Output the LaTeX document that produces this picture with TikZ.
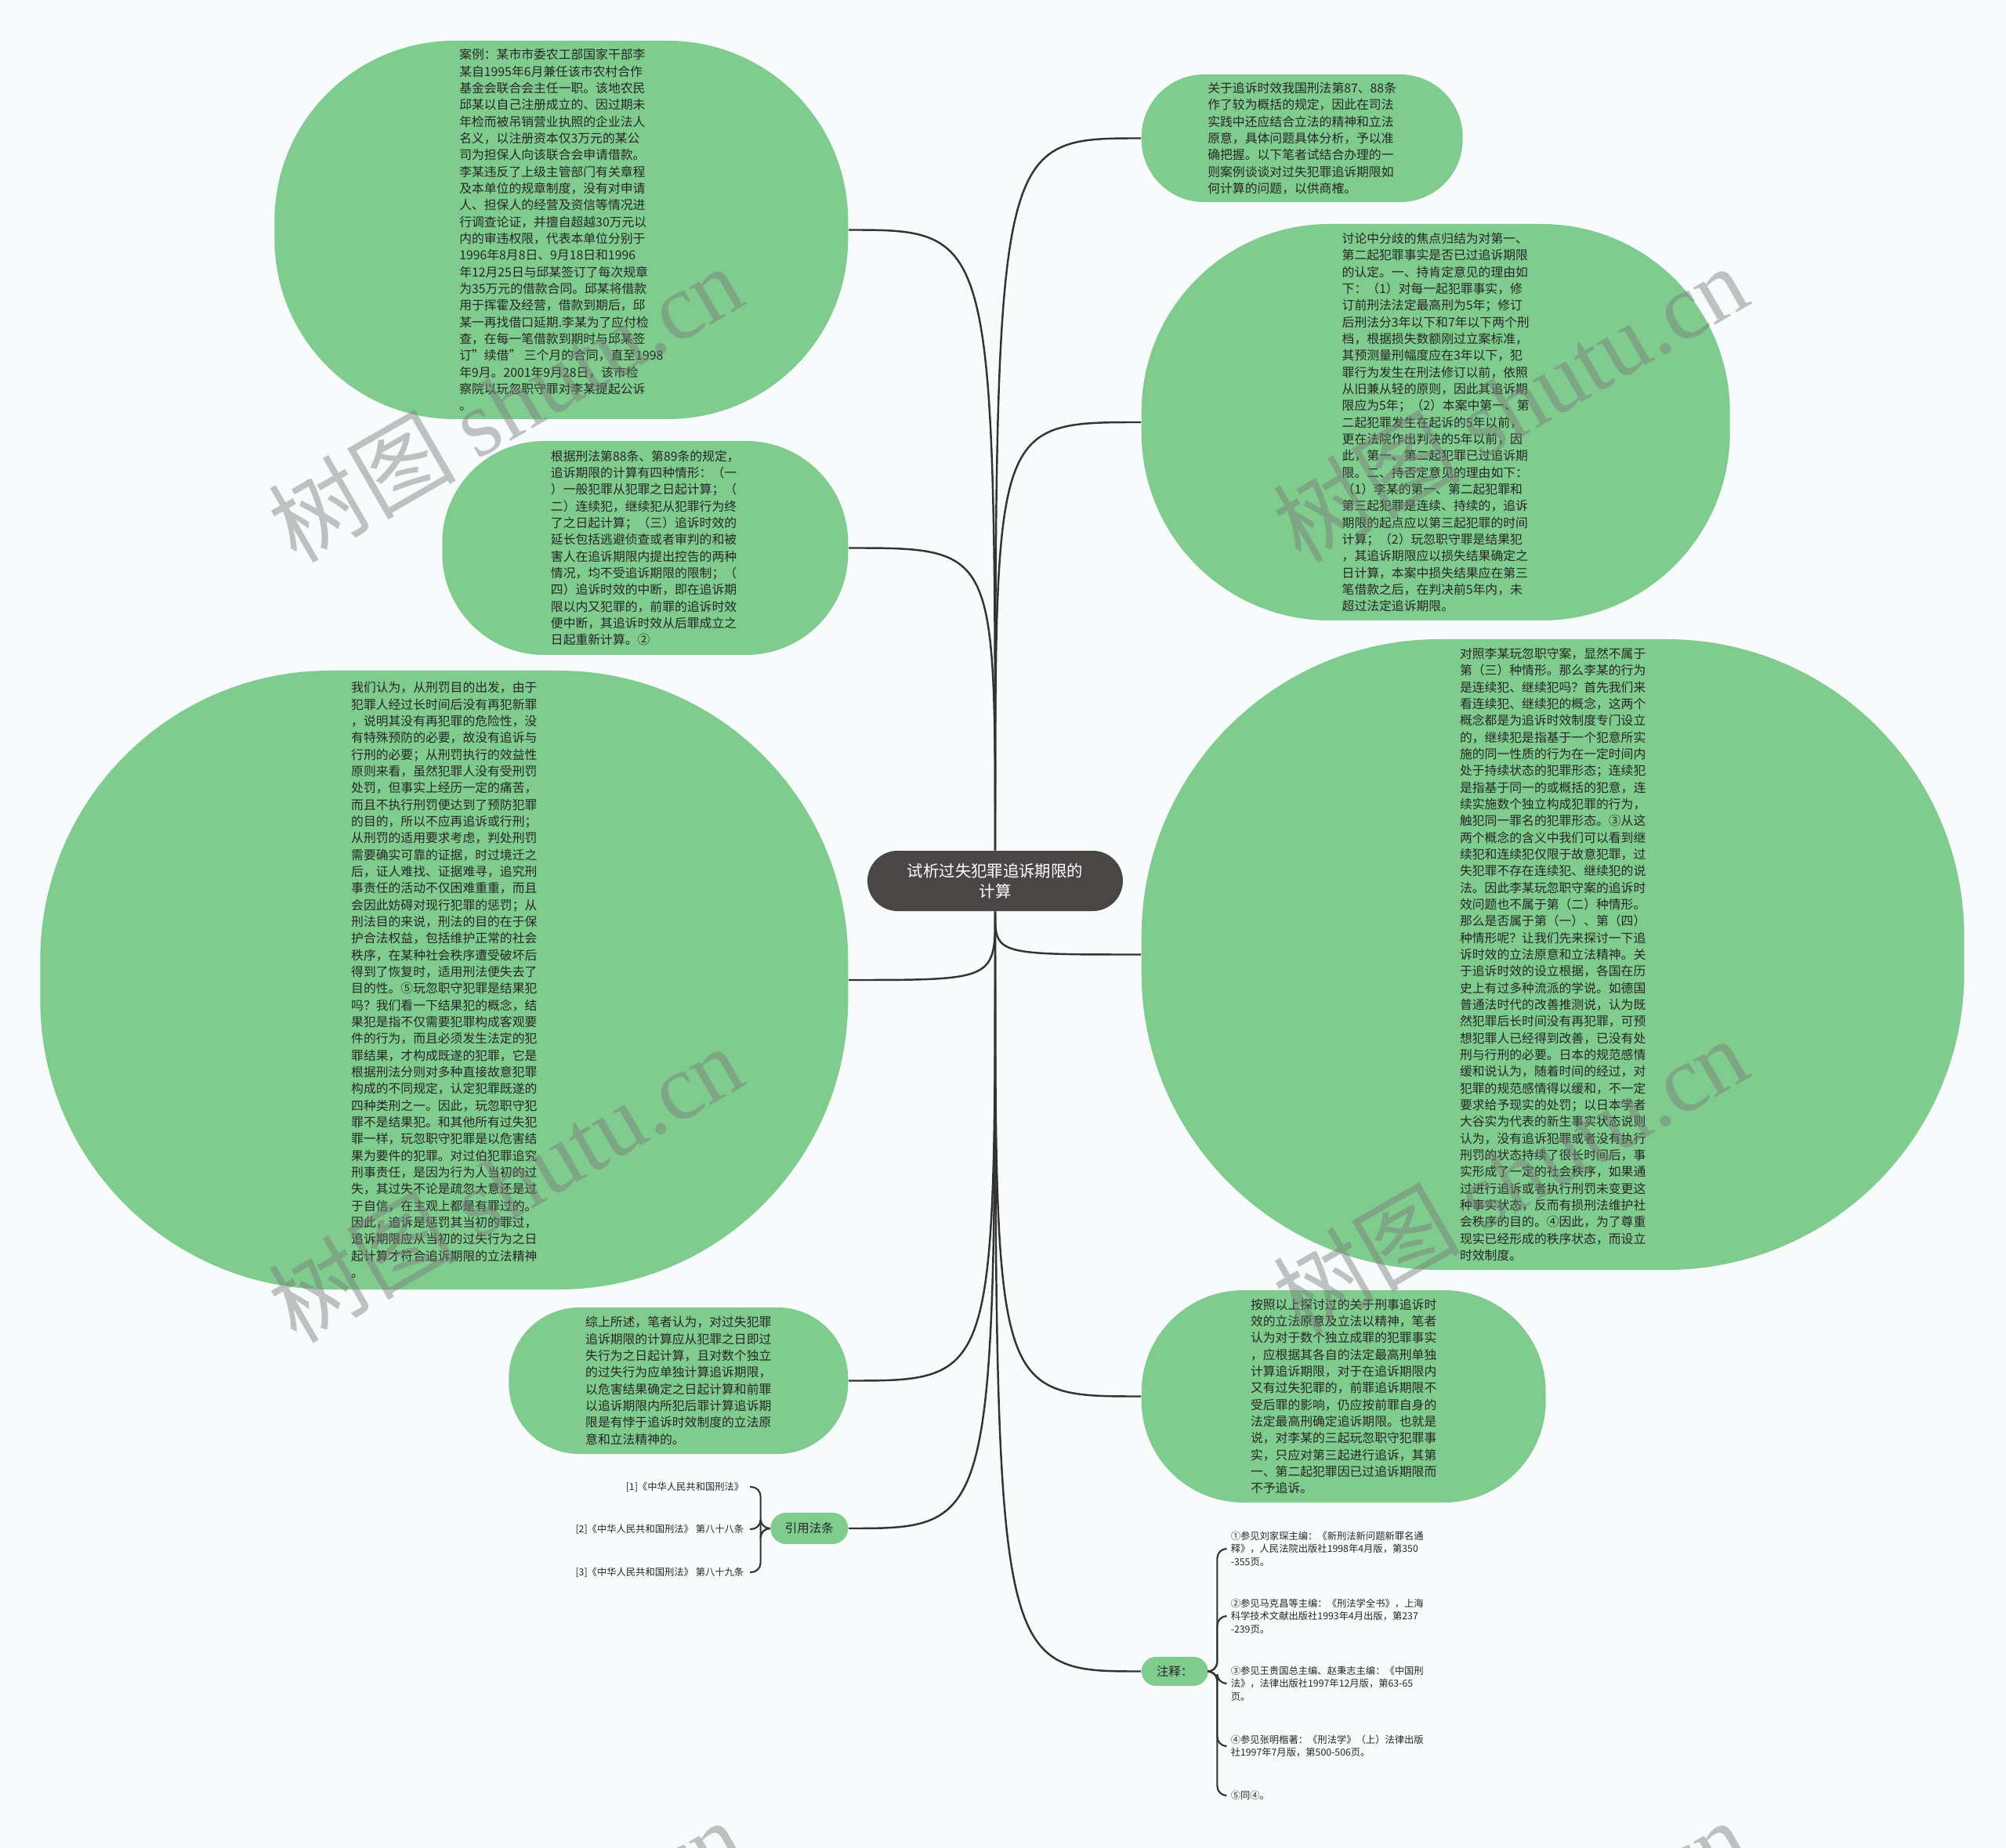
\documentclass[tikz,border=0pt]{standalone}
\usepackage{fontspec}
\setmainfont{Noto Sans CJK SC}
\newfontfamily\markfont{Liberation Serif}
\usepackage{tikz}
\definecolor{PaperBg}{HTML}{F8FBFC}
\definecolor{LeafGreen}{HTML}{80CB8E}
\definecolor{InkDark}{HTML}{262626}
\definecolor{RootGray}{HTML}{4A4646}
\definecolor{LinkGray}{HTML}{333333}
\definecolor{MarkGray}{HTML}{7A7A7A}

\begin{document}
\begin{tikzpicture}[
  every node/.style={font=\fontsize{4.5}{6.07}\selectfont, text=InkDark},
  bubble/.style={fill=LeafGreen, inner sep=0pt, align=left},
  tag/.style={fill=LeafGreen, inner sep=0pt, font=\fontsize{4.4}{5}\selectfont},
  leaf/.style={inner sep=2pt, align=left, font=\fontsize{3.5}{4.65}\selectfont},
  link/.style={draw=LinkGray, line width=0.7pt},
  brace/.style={draw=LinkGray, line width=0.6pt, rounded corners=0.12cm},
  wmark/.style={rotate=30, text=MarkGray, text opacity=0.45, font=\fontsize{34}{34}\selectfont}]
  % page
  \fill[PaperBg] (0,0) rectangle (25.6,-23.59);
  \useasboundingbox (0,0) rectangle (25.6,-23.59);
  % root
  \node[fill=RootGray, text=white, minimum width=3.26cm, minimum height=0.77cm,
    rounded corners=0.385cm, inner sep=0pt, align=center,
    font=\fontsize{5.8}{7.5}\selectfont] (root) at (12.70,-11.245)
    {试析过失犯罪追诉期限的\\计算};
  % left bubbles
  \node[bubble, anchor=east, minimum width=7.32cm, minimum height=4.83cm,
    rounded corners=2.3cm] (case) at (10.83,-2.935) {%
案例：某市市委农工部国家干部李\\
某自1995年6月兼任该市农村合作\\
基金会联合会主任一职。该地农民\\
邱某以自己注册成立的、因过期未\\
年检而被吊销营业执照的企业法人\\
名义，以注册资本仅3万元的某公\\
司为担保人向该联合会申请借款。\\
李某违反了上级主管部门有关章程\\
及本单位的规章制度，没有对申请\\
人、担保人的经营及资信等情况进\\
行调查论证，并擅自超越30万元以\\
内的审违权限，代表本单位分别于\\
1996年8月8日、9月18日和1996\\
年12月25日与邱某签订了每次规章\\
为35万元的借款合同。邱某将借款\\
用于挥霍及经营，借款到期后，邱\\
某一再找借口延期.李某为了应付检\\
查，在每一笔借款到期时与邱某签\\
订"续借" 三个月的合同，直至1998\\
年9月。2001年9月28日，该市检\\
察院以玩忽职守罪对李某提起公诉\\
。};
  \node[bubble, anchor=east, minimum width=5.18cm, minimum height=2.73cm,
    rounded corners=1.3cm] (rules) at (10.83,-6.995) {%
根据刑法第88条、第89条的规定，\\
追诉期限的计算有四种情形：（一\\
）一般犯罪从犯罪之日起计算；（\\
二）连续犯，继续犯从犯罪行为终\\
了之日起计算；（三）追诉时效的\\
延长包括逃避侦查或者审判的和被\\
害人在追诉期限内提出控告的两种\\
情况，均不受追诉期限的限制；（\\
四）追诉时效的中断，即在追诉期\\
限以内又犯罪的，前罪的追诉时效\\
便中断，其追诉时效从后罪成立之\\
日起重新计算。②};
  \node[bubble, anchor=east, minimum width=10.31cm, minimum height=7.90cm,
    rounded corners=3.7cm] (view) at (10.83,-12.51) {%
我们认为，从刑罚目的出发，由于\\
犯罪人经过长时间后没有再犯新罪\\
，说明其没有再犯罪的危险性，没\\
有特殊预防的必要，故没有追诉与\\
行刑的必要；从刑罚执行的效益性\\
原则来看，虽然犯罪人没有受刑罚\\
处罚，但事实上经历一定的痛苦，\\
而且不执行刑罚便达到了预防犯罪\\
的目的，所以不应再追诉或行刑；\\
从刑罚的适用要求考虑，判处刑罚\\
需要确实可靠的证据，时过境迁之\\
后，证人难找、证据难寻，追究刑\\
事责任的活动不仅困难重重，而且\\
会因此妨碍对现行犯罪的惩罚；从\\
刑法目的来说，刑法的目的在于保\\
护合法权益，包括维护正常的社会\\
秩序，在某种社会秩序遭受破坏后\\
得到了恢复时，适用刑法便失去了\\
目的性。⑤玩忽职守犯罪是结果犯\\
吗？我们看一下结果犯的概念，结\\
果犯是指不仅需要犯罪构成客观要\\
件的行为，而且必须发生法定的犯\\
罪结果，才构成既遂的犯罪，它是\\
根据刑法分则对多种直接故意犯罪\\
构成的不同规定，认定犯罪既遂的\\
四种类刑之一。因此，玩忽职守犯\\
罪不是结果犯。和其他所有过失犯\\
罪一样，玩忽职守犯罪是以危害结\\
果为要件的犯罪。对过伯犯罪追究\\
刑事责任，是因为行为人当初的过\\
失，其过失不论是疏忽大意还是过\\
于自信，在主观上都是有罪过的。\\
因此，追诉是惩罚其当初的罪过，\\
追诉期限应从当初的过失行为之日\\
起计算才符合追诉期限的立法精神\\
。};
  \node[bubble, anchor=east, minimum width=4.33cm, minimum height=1.87cm,
    rounded corners=0.9cm] (summary) at (10.83,-17.625) {%
综上所述，笔者认为，对过失犯罪\\
追诉期限的计算应从犯罪之日即过\\
失行为之日起计算，且对数个独立\\
的过失行为应单独计算追诉期限，\\
以危害结果确定之日起计算和前罪\\
以追诉期限内所犯后罪计算追诉期\\
限是有悖于追诉时效制度的立法原\\
意和立法精神的。};
  \node[tag, anchor=east, minimum width=0.99cm, minimum height=0.40cm,
    rounded corners=0.2cm] (cite) at (10.83,-19.51) {引用法条};
  % right bubbles
  \node[bubble, anchor=west, minimum width=4.10cm, minimum height=1.63cm,
    rounded corners=0.8cm] (intro) at (14.56,-1.765) {%
关于追诉时效我国刑法第87、88条\\
作了较为概括的规定，因此在司法\\
实践中还应结合立法的精神和立法\\
原意，具体问题具体分析，予以准\\
确把握。以下笔者试结合办理的一\\
则案例谈谈对过失犯罪追诉期限如\\
何计算的问题，以供商榷。};
  \node[bubble, anchor=west, minimum width=7.51cm, minimum height=5.06cm,
    rounded corners=2.4cm] (dispute) at (14.56,-5.39) {%
讨论中分歧的焦点归结为对第一、\\
第二起犯罪事实是否已过追诉期限\\
的认定。一、持肯定意见的理由如\\
下：（1）对每一起犯罪事实，修\\
订前刑法法定最高刑为5年；修订\\
后刑法分3年以下和7年以下两个刑\\
档，根据损失数额刚过立案标准，\\
其预测量刑幅度应在3年以下，犯\\
罪行为发生在刑法修订以前，依照\\
从旧兼从轻的原则，因此其追诉期\\
限应为5年；（2）本案中第一、第\\
二起犯罪发生在起诉的5年以前，\\
更在法院作出判决的5年以前，因\\
此，第一、第二起犯罪已过追诉期\\
限。二、持否定意见的理由如下：\\
（1）李某的第一、第二起犯罪和\\
第三起犯罪是连续、持续的，追诉\\
期限的起点应以第三起犯罪的时间\\
计算；（2）玩忽职守罪是结果犯\\
，其追诉期限应以损失结果确定之\\
日计算，本案中损失结果应在第三\\
笔借款之后，在判决前5年内，未\\
超过法定追诉期限。};
  \node[bubble, anchor=west, minimum width=10.50cm, minimum height=8.05cm,
    rounded corners=3.8cm] (analysis) at (14.56,-12.185) {%
对照李某玩忽职守案，显然不属于\\
第（三）种情形。那么李某的行为\\
是连续犯、继续犯吗？首先我们来\\
看连续犯、继续犯的概念，这两个\\
概念都是为追诉时效制度专门设立\\
的，继续犯是指基于一个犯意所实\\
施的同一性质的行为在一定时间内\\
处于持续状态的犯罪形态；连续犯\\
是指基于同一的或概括的犯意，连\\
续实施数个独立构成犯罪的行为，\\
触犯同一罪名的犯罪形态。③从这\\
两个概念的含义中我们可以看到继\\
续犯和连续犯仅限于故意犯罪，过\\
失犯罪不存在连续犯、继续犯的说\\
法。因此李某玩忽职守案的追诉时\\
效问题也不属于第（二）种情形。\\
那么是否属于第（一）、第（四）\\
种情形呢？让我们先来探讨一下追\\
诉时效的立法原意和立法精神。关\\
于追诉时效的设立根据，各国在历\\
史上有过多种流派的学说。如德国\\
普通法时代的改善推测说，认为既\\
然犯罪后长时间没有再犯罪，可预\\
想犯罪人已经得到改善，已没有处\\
刑与行刑的必要。日本的规范感情\\
缓和说认为，随着时间的经过，对\\
犯罪的规范感情得以缓和，不一定\\
要求给予现实的处罚；以日本学者\\
大谷实为代表的新生事实状态说则\\
认为，没有追诉犯罪或者没有执行\\
刑罚的状态持续了很长时间后，事\\
实形成了一定的社会秩序，如果通\\
过进行追诉或者执行刑罚未变更这\\
种事实状态，反而有损刑法维护社\\
会秩序的目的。④因此，为了尊重\\
现实已经形成的秩序状态，而设立\\
时效制度。};
  \node[bubble, anchor=west, minimum width=5.16cm, minimum height=2.71cm,
    rounded corners=1.3cm] (conclusion) at (14.56,-17.825) {%
按照以上探讨过的关于刑事追诉时\\
效的立法原意及立法以精神，笔者\\
认为对于数个独立成罪的犯罪事实\\
，应根据其各自的法定最高刑单独\\
计算追诉期限，对于在追诉期限内\\
又有过失犯罪的，前罪追诉期限不\\
受后罪的影响，仍应按前罪自身的\\
法定最高刑确定追诉期限。也就是\\
说，对李某的三起玩忽职守犯罪事\\
实，只应对第三起进行追诉，其第\\
一、第二起犯罪因已过追诉期限而\\
不予追诉。};
  \node[tag, anchor=west, minimum width=0.85cm, minimum height=0.37cm,
    rounded corners=0.185cm] (notes) at (14.56,-21.335) {注释：};
  % connectors from the root
  \draw[link] (root.north) .. controls (root.north |- case.east) .. (case.east);
  \draw[link] (root.north) .. controls (root.north |- rules.east) .. (rules.east);
  \draw[link] (root.south) .. controls (root.south |- view.east) .. (view.east);
  \draw[link] (root.south) .. controls (root.south |- summary.east) .. (summary.east);
  \draw[link] (root.south) .. controls (root.south |- cite.east) .. (cite.east);
  \draw[link] (root.north) .. controls (root.north |- intro.west) .. (intro.west);
  \draw[link] (root.north) .. controls (root.north |- dispute.west) .. (dispute.west);
  \draw[link] (root.south) .. controls (root.south |- analysis.west) .. (analysis.west);
  \draw[link] (root.south) .. controls (root.south |- conclusion.west) .. (conclusion.west);
  \draw[link] (root.south) .. controls (root.south |- notes.west) .. (notes.west);
  % cited articles
  \node[leaf, anchor=east] (ref1) at (9.57,-18.98) {[1]《中华人民共和国刑法》};
  \node[leaf, anchor=east] (ref2) at (9.57,-19.52) {[2]《中华人民共和国刑法》 第八十八条};
  \node[leaf, anchor=east] (ref3) at (9.57,-20.07) {[3]《中华人民共和国刑法》 第八十九条};
  \foreach \r in {ref1,ref2,ref3}
    \draw[brace] (cite.west) -- ++(-0.12,0) |- (\r.east);
  % notes
  \node[leaf, anchor=west] (n1) at (15.63,-19.77)
    {①参见刘家琛主编：《新刑法新问题新罪名通\\释》，人民法院出版社1998年4月版，第350\\-355页。};
  \node[leaf, anchor=west] (n2) at (15.63,-20.63)
    {②参见马克昌等主编：《刑法学全书》，上海\\科学技术文献出版社1993年4月出版，第237\\-239页。};
  \node[leaf, anchor=west] (n3) at (15.63,-21.49)
    {③参见王贵国总主编、赵秉志主编：《中国刑\\法》，法律出版社1997年12月版，第63-65\\页。};
  \node[leaf, anchor=west] (n4) at (15.63,-22.29)
    {④参见张明楷著：《刑法学》（上）法律出版\\社1997年7月版，第500-506页。};
  \node[leaf, anchor=west] (n5) at (15.63,-22.92) {⑤同④。};
  \foreach \n in {n1,n2,n3,n4,n5}
    \draw[brace] (notes.east) -- ++(0.11,0) |- (\n.west);
  % watermark
  \begin{scope}
    \clip (0,0) rectangle (25.6,-23.59);
    \foreach \x/\y [count=\k] in {6.45/-5.14, 19.27/-5.14, 6.45/-15.1,
        19.27/-15.0, 6.45/-24.98, 19.27/-24.98}
      \node[wmark] (wm\k) at (\x,\y) {树图 {\markfont shutu.cn}};
  \end{scope}
\end{tikzpicture}
\end{document}
